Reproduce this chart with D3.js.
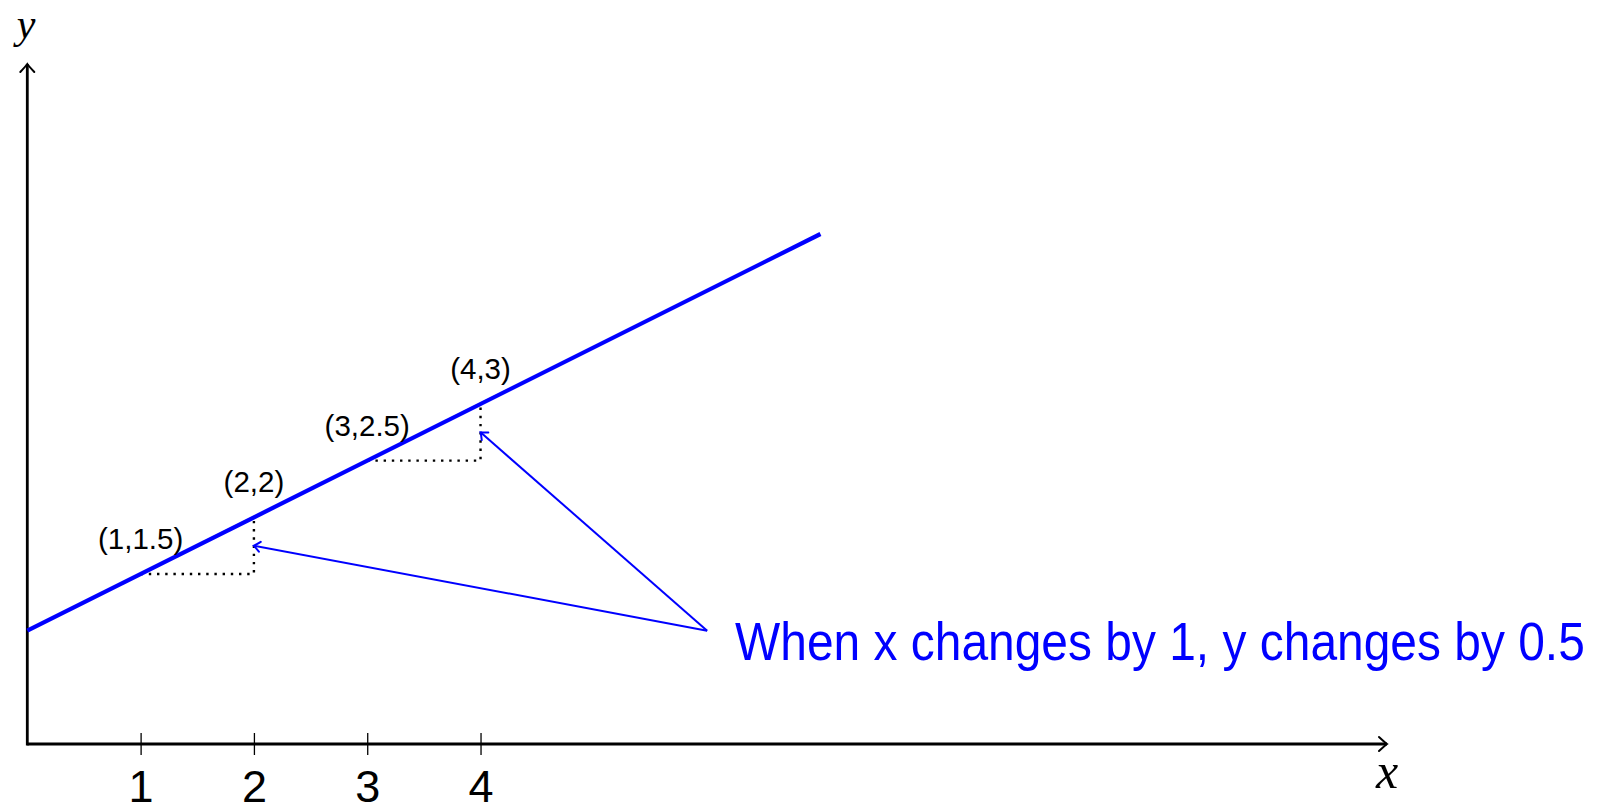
<!DOCTYPE html>
<html>
<head>
<meta charset="utf-8">
<script src="https://cdn.jsdelivr.net/npm/d3@7"></script>
<style>
  body { margin: 0; background: #fff; }
  svg { display: block; }
</style>
</head>
<body>
<svg id="chart"></svg>
<script>
// Data
const lineX = [0, 7];
const lineY = [1, 4.5];
const pointX = [1, 2, 3, 4];
const pointY = [1.5, 2, 2.5, 3];
const pointLabels = ["(1,1.5)", "(2,2)", "(3,2.5)", "(4,3)"];
const tickValues = [1, 2, 3, 4];
// dotted "step" triangles: from point i go right 1, then up 0.5
const stepStart = [[1, 1.5], [3, 2.5]];
const stepCorner = [[2, 1.5], [4, 2.5]];
const stepEnd = [[2, 2], [4, 3]];
// annotation arrows
const noteTail = [6, 1];
const noteTips = [[2, 1.75], [4, 2.75]];
const noteText = "When x changes by 1, y changes by 0.5";
const xDomain = [0, 12];
const yDomain = [0, 6];

const config = {
  width: 1604,
  height: 812,
  left: 27.3,
  right: 1387,
  bottom: 744,
  top: 64,
  noteWidth: 850,
};

const svg = d3.select("#chart")
  .attr("width", config.width)
  .attr("height", config.height);

const x = d3.scaleLinear().domain(xDomain).range([config.left, config.right]);
const y = d3.scaleLinear().domain(yDomain).range([config.bottom, config.top]);

// Arrow tips (TikZ style open chevrons)
const defs = svg.append("defs");
function addTip(id, color, depth, half) {
  defs.append("marker")
    .attr("id", id)
    .attr("markerUnits", "userSpaceOnUse")
    .attr("viewBox", `${-depth - 2} ${-half - 2} ${depth + 4} ${2 * half + 4}`)
    .attr("refX", 0)
    .attr("refY", 0)
    .attr("markerWidth", depth + 4)
    .attr("markerHeight", 2 * half + 4)
    .attr("orient", "auto")
    .append("path")
    .attr("d", `M${-depth},${-half} Q${-depth * 0.25},${-half * 0.2} 0,0 Q${-depth * 0.25},${half * 0.2} ${-depth},${half}`)
    .attr("fill", "none")
    .attr("stroke", color)
    .attr("stroke-width", 2)
    .attr("stroke-linecap", "round");
}
addTip("axisTip", "#000", 8, 7);
addTip("noteTip", "#0000ff", 6, 5);

// Axes lines
svg.append("line")
  .attr("x1", x(0)).attr("y1", y(0))
  .attr("x2", x(xDomain[1])).attr("y2", y(0))
  .attr("stroke", "#000").attr("stroke-width", 2.8)
  .attr("marker-end", "url(#axisTip)");
svg.append("line")
  .attr("x1", x(0)).attr("y1", y(0) + 1.4)
  .attr("x2", x(0)).attr("y2", y(yDomain[1]))
  .attr("stroke", "#000").attr("stroke-width", 2.8)
  .attr("marker-end", "url(#axisTip)");

// Ticks + labels via d3 axis
const xAxis = d3.axisBottom(x).tickValues(tickValues).tickSize(11).tickPadding(15);
const xAxisG = svg.append("g")
  .attr("transform", `translate(0,${y(0)})`)
  .call(xAxis);
xAxisG.select(".domain").remove();
xAxisG.selectAll(".tick line")
  .attr("y1", -11)
  .attr("stroke", "#000")
  .attr("stroke-width", 1.3);
xAxisG.selectAll(".tick text")
  .attr("fill", "#000")
  .style("font-family", "'Liberation Sans', Arial, sans-serif")
  .style("font-size", "45px");

// Axis titles
svg.append("text")
  .attr("x", 26).attr("y", 38)
  .attr("text-anchor", "middle")
  .style("font-family", "'Liberation Serif', 'DejaVu Serif', serif")
  .style("font-style", "italic")
  .style("font-size", "42px")
  .text("y");
svg.append("text")
  .attr("x", x(xDomain[1])).attr("y", 788)
  .attr("text-anchor", "middle")
  .style("font-family", "'Liberation Serif', 'DejaVu Serif', serif")
  .style("font-style", "italic")
  .style("font-size", "50px")
  .text("x");

// Dotted step lines
stepStart.forEach((s, i) => {
  const pts = [s, stepCorner[i], stepEnd[i]];
  svg.append("path")
    .attr("d", d3.line().x((d) => x(d[0])).y((d) => y(d[1]))(pts))
    .attr("fill", "none")
    .attr("stroke", "#000")
    .attr("stroke-width", 2.4)
    .attr("stroke-dasharray", "2.4,5.8");
});

// Main line
svg.append("path")
  .datum(lineX.map((d, i) => [d, lineY[i]]))
  .attr("d", d3.line().x((d) => x(d[0])).y((d) => y(d[1])))
  .attr("fill", "none")
  .attr("stroke", "#0000ff")
  .attr("stroke-width", 4.2);

// Point labels
svg.selectAll(".pt-label")
  .data(pointLabels)
  .join("text")
  .attr("class", "pt-label")
  .attr("x", (d, i) => x(pointX[i]))
  .attr("y", (d, i) => y(pointY[i]) - 25)
  .attr("text-anchor", "middle")
  .attr("fill", "#000")
  .style("font-family", "'Liberation Sans', Arial, sans-serif")
  .style("font-size", "29.5px")
  .text((d) => d);

// Annotation arrows
noteTips.forEach((tip) => {
  svg.append("line")
    .attr("x1", x(noteTail[0])).attr("y1", y(noteTail[1]))
    .attr("x2", x(tip[0])).attr("y2", y(tip[1]))
    .attr("stroke", "#0000ff")
    .attr("stroke-width", 2)
    .attr("marker-end", "url(#noteTip)");
});

// Annotation text, squeezed horizontally to mimic the narrow LaTeX sans
const note = svg.append("text")
  .attr("x", 0)
  .attr("y", 0)
  .attr("fill", "#0000ff")
  .style("font-family", "'Liberation Sans', Arial, sans-serif")
  .style("font-size", "54px")
  .text(noteText);
const naturalWidth = note.node().getComputedTextLength();
note.attr("transform", `translate(735,660) scale(${config.noteWidth / naturalWidth},1)`);
</script>
</body>
</html>
